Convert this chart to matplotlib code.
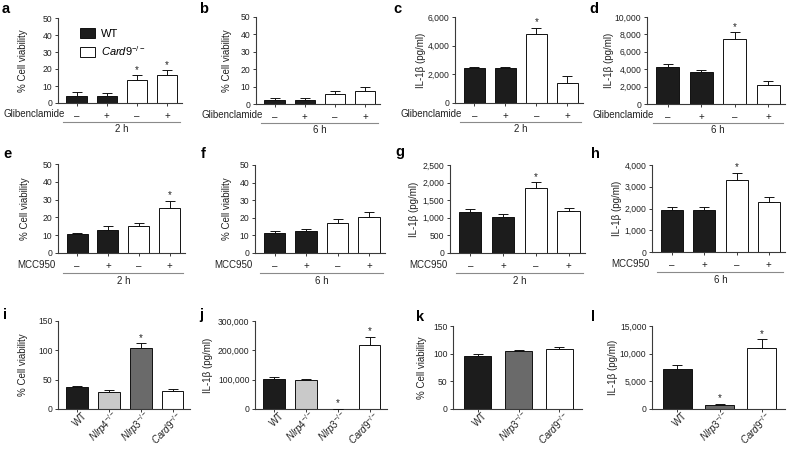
import matplotlib
matplotlib.use('Agg')
import matplotlib.pyplot as plt
from matplotlib.patches import Patch
from matplotlib.ticker import FuncFormatter
from matplotlib.transforms import blended_transform_factory, offset_copy, ScaledTranslation

plt.rcParams['font.family'] = ['Liberation Sans', 'DejaVu Sans']
plt.rcParams['mathtext.fontset'] = 'custom'
plt.rcParams['mathtext.rm'] = 'Liberation Sans'
plt.rcParams['mathtext.it'] = 'Liberation Sans:italic'
plt.rcParams['mathtext.bf'] = 'Liberation Sans:bold'

# ---------------- data ----------------
treat_ticks = ['–', '+', '–', '+']
genos4 = ['WT', r'$\mathit{Nlrp4}^{-/-}$', r'$\mathit{Nlrp3}^{-/-}$', r'$\mathit{Card9}^{-/-}$']
genos3 = ['WT', r'$\mathit{Nlrp3}^{-/-}$', r'$\mathit{Card9}^{-/-}$']

a_vals = [4.3, 4.3, 13.7, 16.5];        a_err = [2.0, 1.4, 2.6, 2.7]
b_vals = [2.3, 2.3, 5.6, 7.7];          b_err = [1.2, 1.2, 2.1, 2.3]
c_vals = [2470, 2420, 4800, 1390];      c_err = [70, 95, 460, 500]
d_vals = [4275, 3660, 7440, 2175];      d_err = [305, 270, 800, 495]
e_vals = [10.4, 13.2, 15.3, 25.5];      e_err = [0.8, 1.9, 1.7, 3.9]
f_vals = [11.6, 12.5, 17.3, 20.5];      f_err = [1.1, 1.2, 2.3, 2.7]
g_vals = [1170, 1017, 1853, 1188];      g_err = [94, 95, 152, 86]
h_vals = [1940, 1940, 3313, 2320];      h_err = [150, 120, 337, 200]
i_vals = [38, 28.4, 104.5, 31.3];       i_err = [1.8, 3.4, 7.5, 2.2]
j_vals = [102300, 97700, 0, 218000];    j_err = [6700, 4600, 0, 28600]
k_vals = [96.6, 104.4, 108];            k_err = [2.4, 3.0, 3.6]
l_vals = [7260, 720, 10980];            l_err = [660, 180, 1620]

stars = {'a': [2, 3], 'b': [], 'c': [2], 'd': [2], 'e': [3], 'f': [], 'g': [2], 'h': [2],
         'i': [2], 'j': [2, 3], 'k': [], 'l': [1, 2]}

BLACK, LGREY, DGREY, WHITE = '#1c1c1c', '#c9c9c9', '#6a6a6a', '#ffffff'
cols_treat = [BLACK, BLACK, WHITE, WHITE]
cols4 = [BLACK, LGREY, DGREY, WHITE]
cols3 = [BLACK, DGREY, WHITE]

TXT = '#222222'
AXC = '#3a3a3a'
FS = 7.0
YFS = 6.2

W, H = 788, 449
fig = plt.figure(figsize=(W / 100, H / 100), dpi=100)


def make_ax(x0, y0, x1, y1):
    return fig.add_axes([x0 / W, 1 - y1 / H, (x1 - x0) / W, (y1 - y0) / H])


def fmt(v, pos):
    return '{:,.0f}'.format(v)


def panel(box, vals, errs, colors, ylim, ystep, ylabel, key, xlim, ylab_x):
    ax = make_ax(*box)
    x = list(range(len(vals)))
    ax.bar(x, vals, width=0.68, color=colors, edgecolor='#111111', linewidth=0.7, zorder=2)
    ax.errorbar(x, vals, yerr=[[0] * len(errs), errs], fmt='none', ecolor='#111111',
                elinewidth=0.7, capsize=3.4, capthick=0.7, zorder=3)
    for s in stars[key]:
        ax.annotate('*', xy=(s, vals[s] + errs[s]), xytext=(0, 0.5), textcoords='offset points',
                    ha='center', va='bottom', fontsize=7, color=TXT)
    ax.set_ylim(0, ylim)
    ax.set_xlim(*xlim)
    ticks = [ystep * k for k in range(int(round(ylim / ystep)) + 1)]
    ax.set_yticks(ticks)
    ax.yaxis.set_major_formatter(FuncFormatter(fmt))
    for sp in ['top', 'right']:
        ax.spines[sp].set_visible(False)
    for sp in ['left', 'bottom']:
        ax.spines[sp].set_color(AXC)
        ax.spines[sp].set_linewidth(0.8)
    ax.tick_params(axis='both', colors=AXC, labelcolor=TXT, labelsize=FS, length=2.5, width=0.7)
    ax.tick_params(axis='y', pad=1.5, labelsize=YFS)
    ax.set_ylabel(ylabel, fontsize=FS, color=TXT)
    # label centre placed at reference pixel column (anchor is the label's right side)
    ax.yaxis.set_label_coords((ylab_x + 5 - box[0]) / (box[2] - box[0]), 0.5)
    ax.set_xticks(x)
    return ax


def treat_panel(box, vals, errs, ylim, ystep, ylabel, key, drug, time, drug_x,
                line_dy, lab_dy, time_dy, ylab_x):
    ax = panel(box, vals, errs, cols_treat, ylim, ystep, ylabel, key, (-0.62, 3.5), ylab_x)
    ax.set_xticklabels(treat_ticks, fontsize=FS)
    ax.tick_params(axis='x', pad=3.0)
    trans = blended_transform_factory(ax.transData, ax.transAxes)
    ax.text(drug_x, 0, drug, transform=offset_copy(trans, fig=fig, y=-lab_dy, units='dots'),
            ha='right', va='center', fontsize=FS, color=TXT)
    ax.plot([-0.45, 3.45], [0, 0], transform=offset_copy(trans, fig=fig, y=-line_dy, units='dots'),
            clip_on=False, color='#8a8a8a', lw=0.8)
    ax.text(1.5, 0, time, transform=offset_copy(trans, fig=fig, y=-time_dy, units='dots'),
            ha='center', va='center', fontsize=FS, color=TXT)
    return ax


def geno_panel(box, vals, errs, colors, labels, ylim, ystep, ylabel, key, ylab_x):
    n = len(vals)
    ax = panel(box, vals, errs, colors, ylim, ystep, ylabel, key, (-0.6, n - 0.45), ylab_x)
    ax.set_xticklabels(labels, rotation=45, ha='right', va='center', rotation_mode='anchor', fontsize=FS)
    ax.tick_params(axis='x', pad=1)
    shift = ScaledTranslation(8 / 100, 0 / 100, fig.dpi_scale_trans)
    for lab in ax.get_xticklabels():
        lab.set_transform(lab.get_transform() + shift)
    return ax


VIAB = '% Cell viability'
IL = 'IL-1β (pg/ml)'

# row 1
axa = treat_panel((58, 18, 182, 103), a_vals, a_err, 50, 10, VIAB, 'a', 'Glibenclamide', '2 h', -0.4, 19, 11, 26, 23)
treat_panel((256, 17, 380, 104), b_vals, b_err, 50, 10, VIAB, 'b', 'Glibenclamide', '6 h', -0.4, 19, 11, 26, 227)
treat_panel((455, 17, 583, 103), c_vals, c_err, 6000, 2000, IL, 'c', 'Glibenclamide', '2 h', -0.4, 19, 11, 26, 421)
treat_panel((647, 17, 785, 104), d_vals, d_err, 10000, 2000, IL, 'd', 'Glibenclamide', '6 h', -0.4, 19, 11, 26, 609)

# row 2
treat_panel((58, 164, 185, 253), e_vals, e_err, 50, 10, VIAB, 'e', 'MCC950', '2 h', -0.7, 20, 12, 28, 25)
treat_panel((255, 165, 385, 253), f_vals, f_err, 50, 10, VIAB, 'f', 'MCC950', '6 h', -0.7, 20, 12, 28, 227)
treat_panel((450, 165, 585, 253), g_vals, g_err, 2500, 500, IL, 'g', 'MCC950', '2 h', -0.7, 20, 12, 28, 414)
treat_panel((652, 165, 785, 252), h_vals, h_err, 4000, 1000, IL, 'h', 'MCC950', '6 h', -0.7, 20, 12, 28, 617)

# row 3
geno_panel((58, 321, 190, 409), i_vals, i_err, cols4, genos4, 150, 50, VIAB, 'i', 23)
geno_panel((255, 321, 387, 409), j_vals, j_err, cols4, genos4, 300000, 100000, IL, 'j', 208)
geno_panel((453, 326, 582, 409), k_vals, k_err, cols3, genos3, 150, 50, VIAB, 'k', 422)
geno_panel((652, 326, 785, 409), l_vals, l_err, cols3, genos3, 15000, 5000, IL, 'l', 613)

# legend in panel a
handles = [Patch(facecolor=BLACK, edgecolor='#111111', linewidth=0.7, label='WT'),
           Patch(facecolor=WHITE, edgecolor='#111111', linewidth=0.7, label=r'$\mathit{Card9}^{-/-}$')]
axa.legend(handles=handles, loc='upper left', bbox_to_anchor=(0.14, 0.93), frameon=False,
           fontsize=8, handlelength=1.4, handleheight=0.95, handletextpad=0.5, labelspacing=0.45,
           borderaxespad=0)

# panel letters
letters = [('a', 2, 13), ('b', 199, 13), ('c', 393, 13), ('d', 589, 13),
           ('e', 3, 158), ('f', 201, 158), ('g', 395, 156), ('h', 591, 158),
           ('i', 3, 319), ('j', 199, 319), ('k', 416, 321), ('l', 591, 321)]
for t, xp, yp in letters:
    fig.text(xp / W, 1 - yp / H, t, fontsize=10.5, fontweight='bold', ha='left', va='baseline', color='#000000')

fig.savefig('out.png', dpi=100)
